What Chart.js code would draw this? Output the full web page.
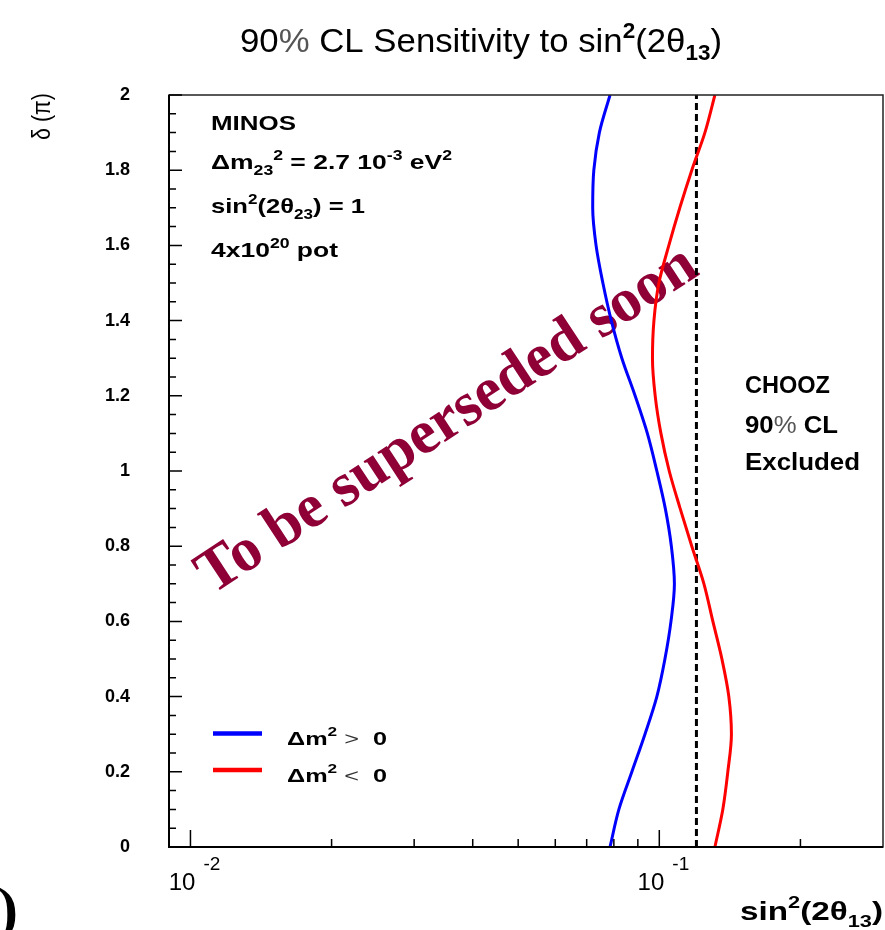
<!DOCTYPE html>
<html>
<head>
<meta charset="utf-8">
<style>
  html, body { margin: 0; padding: 0; background: #fff; }
  canvas { display: block; }
</style>
<script src="https://cdn.jsdelivr.net/npm/chart.js@4/dist/chart.umd.min.js"></script>
</head>
<body>
<canvas id="sensChart" width="885" height="930"></canvas>
<script>
// delta_CP in units of pi, and the 90% CL sin^2(2theta13) sensitivity
const deltaPi = [0, 0.1, 0.2, 0.3, 0.4, 0.5, 0.6, 0.7, 0.8, 0.9, 1.0,
                 1.1, 1.2, 1.3, 1.4, 1.5, 1.6, 1.7, 1.8, 1.9, 2.0];
const sensNormal = [0.0785, 0.0820, 0.0874, 0.0932, 0.0988, 0.1028, 0.1059, 0.1077, 0.1061, 0.1030, 0.0988,
                    0.0943, 0.0888, 0.0832, 0.0790, 0.0758, 0.0733, 0.0721, 0.0725, 0.0745, 0.0785];
const sensInverted = [0.1314, 0.1366, 0.1400, 0.1425, 0.1407, 0.1360, 0.1301, 0.1245, 0.1173, 0.1108, 0.1050,
                      0.1008, 0.0980, 0.0967, 0.0974, 0.0998, 0.1048, 0.1106, 0.1173, 0.1251, 0.1314];
const choozLimit = 0.12;

const xMajorTicks = [0.01, 0.1];
const xMajorExp = ['-2', '-1'];
const xMinorTicks = [0.02, 0.03, 0.04, 0.05, 0.06, 0.07, 0.08, 0.09, 0.2];
const yMinorStep = 0.05;

const SANS = '"Liberation Sans", Arial, Helvetica, sans-serif';
const SERIF = '"Liberation Serif", "Times New Roman", serif';
const B = s => `bold ${s}px ${SANS}`;
const N = s => `${s}px ${SANS}`;

// draw a row of text pieces (sub/superscripts), stretched to a given width
function richText(ctx, runs, x, y, width, angle, color) {
    ctx.save();
    let total = 0;
    runs.forEach(r => { ctx.font = r.f; r.w = ctx.measureText(r.t).width; total += r.w; });
    ctx.translate(x, y);
    if (angle) ctx.rotate(angle);
    ctx.scale(width / total, 1);
    ctx.textAlign = 'left';
    ctx.textBaseline = 'alphabetic';
    let cx = 0;
    runs.forEach(r => {
        ctx.font = r.f;
        ctx.fillStyle = r.c || color || '#000';
        ctx.fillText(r.t, cx, r.dy || 0);
        cx += r.w;
    });
    ctx.restore();
}

const watermarkPlugin = {
    id: 'watermark',
    beforeDatasetsDraw: (chart) => {
        richText(chart.ctx, [{ t: 'To be superseded soon', f: `bold 62px ${SERIF}` }],
            212, 595, 585, -33.3 * Math.PI / 180, '#8e0036');
    }
};

const framePlugin = {
    id: 'frame',
    afterDraw: (chart) => {
        const ctx = chart.ctx;
        const a = chart.chartArea;
        const xs = chart.scales.x;
        const ys = chart.scales.y;

        ctx.save();
        // frame
        ctx.strokeStyle = '#222';
        ctx.lineWidth = 1.5;
        ctx.strokeRect(a.left, a.top, a.right - a.left, a.bottom - a.top);
        ctx.strokeStyle = '#000';
        ctx.lineWidth = 2;
        ctx.beginPath();
        ctx.moveTo(a.left, a.top); ctx.lineTo(a.left, a.bottom); ctx.lineTo(a.right, a.bottom);
        ctx.stroke();

        // y ticks
        ctx.lineWidth = 1.5;
        ctx.beginPath();
        for (let i = 0; i * yMinorStep <= 2.0001; i++) {
            const py = ys.getPixelForValue(i * yMinorStep);
            const len = (i % 4 === 0) ? 13 : 7;
            ctx.moveTo(a.left, py); ctx.lineTo(a.left + len, py);
        }
        // x ticks
        xMajorTicks.forEach(v => {
            const px = xs.getPixelForValue(v);
            ctx.moveTo(px, a.bottom); ctx.lineTo(px, a.bottom - 17);
        });
        xMinorTicks.forEach(v => {
            const px = xs.getPixelForValue(v);
            ctx.moveTo(px, a.bottom); ctx.lineTo(px, a.bottom - 8);
        });
        ctx.stroke();

        // x tick labels 10^n
        ctx.fillStyle = '#000';
        xMajorTicks.forEach((v, i) => {
            const px = xs.getPixelForValue(v);
            ctx.font = N(24);
            ctx.textAlign = 'right';
            ctx.fillText('10', px + 5, 890);
            ctx.font = N(19);
            ctx.textAlign = 'left';
            ctx.fillText(xMajorExp[i], px + 13, 870);
        });
        ctx.restore();

        // title
        richText(ctx, [
            { t: '90', f: N(34) }, { t: '%', f: N(34), c: '#555' },
            { t: ' CL Sensitivity to sin', f: N(34) },
            { t: '2', f: B(22), dy: -14 },
            { t: '(2\u03b8', f: N(34) },
            { t: '13', f: B(22), dy: 8 },
            { t: ')', f: N(34) }
        ], 240, 52, 482);

        // axis titles
        richText(ctx, [
            { t: 'sin', f: B(26) }, { t: '2', f: B(17), dy: -12 },
            { t: '(2\u03b8', f: B(26) }, { t: '13', f: B(17), dy: 7 }, { t: ')', f: B(26) }
        ], 740, 920, 143);
        richText(ctx, [{ t: '\u03b4 (\u03c0)', f: N(26) }], 50, 140, 47, -Math.PI / 2);

        // MINOS box
        richText(ctx, [{ t: 'MINOS', f: B(21) }], 211, 130, 85);
        richText(ctx, [
            { t: '\u0394m', f: B(21) }, { t: '23', f: B(14), dy: 6 }, { t: '2', f: B(14), dy: -9 },
            { t: ' = 2.7 10', f: B(21) }, { t: '-3', f: B(14), dy: -9 },
            { t: ' eV', f: B(21) }, { t: '2', f: B(14), dy: -9 }
        ], 211, 169, 241);
        richText(ctx, [
            { t: 'sin', f: B(21) }, { t: '2', f: B(14), dy: -9 },
            { t: '(2\u03b8', f: B(21) }, { t: '23', f: B(14), dy: 6 }, { t: ') = 1', f: B(21) }
        ], 211, 213, 154);
        richText(ctx, [
            { t: '4x10', f: B(21) }, { t: '20', f: B(14), dy: -9 }, { t: ' pot', f: B(21) }
        ], 211, 257, 127);

        // CHOOZ box
        richText(ctx, [{ t: 'CHOOZ', f: B(23) }], 745, 393, 85);
        richText(ctx, [{ t: '90', f: B(23) }, { t: '%', f: N(23), c: '#555' }, { t: ' CL', f: B(23) }], 745, 433, 93);
        richText(ctx, [{ t: 'Excluded', f: B(23) }], 745, 470, 115);

        // legend
        const legendRows = [
            { color: '#0000ff', sign: '>', y: 733.5, base: 745 },
            { color: '#ff0000', sign: '<', y: 770, base: 782 }
        ];
        legendRows.forEach(r => {
            ctx.save();
            ctx.strokeStyle = r.color;
            ctx.lineWidth = 4.5;
            ctx.beginPath();
            ctx.moveTo(213, r.y); ctx.lineTo(262, r.y);
            ctx.stroke();
            ctx.restore();
            richText(ctx, [
                { t: '\u0394m', f: B(19) }, { t: '2', f: B(13), dy: -9 },
                { t: ' ', f: B(19) }, { t: r.sign, f: N(19), c: '#333' }, { t: '  0', f: B(19) }
            ], 287, r.base, 100);
        });

        // cropped bracket at the lower left
        ctx.save();
        ctx.font = `bold 60px ${SERIF}`;
        ctx.fillStyle = '#000';
        ctx.textAlign = 'left';
        ctx.fillText(')', -2, 929);
        ctx.restore();
    }
};

const toPoints = (xs, ys) => xs.map((v, i) => ({ x: v, y: ys[i] }));

new Chart(document.getElementById('sensChart').getContext('2d'), {
    type: 'scatter',
    data: {
        datasets: [
            { label: 'dm2 > 0', data: toPoints(sensNormal, deltaPi), showLine: true, borderColor: '#0000ff',
              borderWidth: 3, pointRadius: 0, cubicInterpolationMode: 'monotone', fill: false },
            { label: 'dm2 < 0', data: toPoints(sensInverted, deltaPi), showLine: true, borderColor: '#ff0000',
              borderWidth: 3, pointRadius: 0, cubicInterpolationMode: 'monotone', fill: false },
            { label: 'CHOOZ', data: [{ x: choozLimit, y: 0 }, { x: choozLimit, y: 2 }], showLine: true,
              borderColor: '#000', borderWidth: 3, borderDash: [7, 4], pointRadius: 0, fill: false }
        ]
    },
    options: {
        indexAxis: 'y',
        responsive: false, animation: false, devicePixelRatio: 1,
        layout: { padding: { top: 95, right: 2, left: 0, bottom: 0 } },
        plugins: { legend: { display: false }, tooltip: { enabled: false }, title: { display: false } },
        scales: {
            x: {
                type: 'logarithmic', min: 0.009, max: 0.3,
                grid: { display: false }, border: { display: false }, ticks: { display: false },
                afterFit: (s) => { s.height = 83; }
            },
            y: {
                type: 'linear', min: 0, max: 2,
                grid: { display: false }, border: { display: false },
                ticks: {
                    stepSize: 0.2, padding: 31, color: '#000',
                    font: { family: SANS, size: 18, weight: 'bold' },
                    callback: (v) => String(Number(v.toFixed(1)))
                },
                afterFit: (s) => { s.width = 169; }
            }
        }
    },
    plugins: [watermarkPlugin, framePlugin]
});
</script>
</body>
</html>
